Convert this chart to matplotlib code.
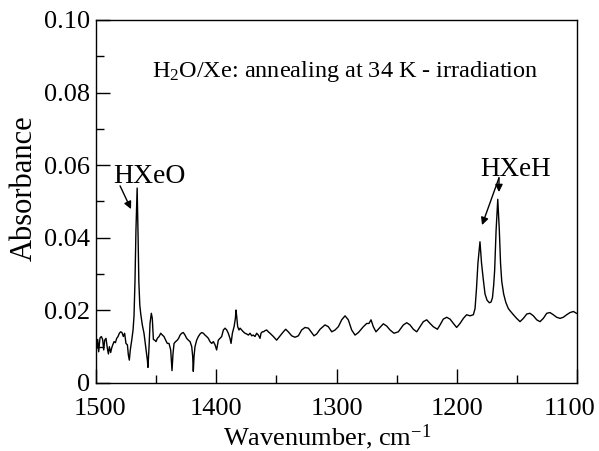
import matplotlib
matplotlib.use("Agg")
import matplotlib.pyplot as plt
import matplotlib.transforms as mtransforms
from matplotlib.ticker import MultipleLocator

# ---------------------------------------------------------------------------
# Data (wavenumber in cm-1, absorbance)
# ---------------------------------------------------------------------------
wavenumber = [
    1499.4, 1498.6, 1497.8, 1496.7, 1495.6, 1494.5, 1493.6, 1492.8, 1491.7, 1490.6,
    1489.7, 1488.9, 1487.8, 1487.0, 1486.1, 1485.0, 1483.9, 1482.8, 1481.7, 1480.6,
    1479.5, 1478.4, 1477.3, 1476.2, 1475.1, 1473.9, 1473.1, 1472.3, 1471.5, 1470.3,
    1469.2, 1468.4, 1467.6, 1466.8, 1465.8, 1465.0, 1464.4, 1463.6, 1462.8, 1461.5,
    1460.1, 1458.7, 1457.3, 1456.8, 1455.9, 1455.1, 1454.0, 1453.2, 1452.3, 1451.2,
    1450.1, 1449.0, 1447.6, 1446.2, 1444.8, 1443.5, 1442.1, 1440.7, 1439.3, 1437.9,
    1436.8, 1436.0, 1435.1, 1433.8, 1432.4, 1431.3, 1430.1, 1428.8, 1427.4, 1426.0,
    1424.6, 1423.2, 1421.8, 1420.4, 1419.6, 1419.1, 1418.5, 1417.7, 1416.3, 1414.9,
    1413.5, 1412.1, 1410.7, 1409.4, 1408.0, 1406.6, 1405.2, 1403.8, 1402.4, 1401.0,
    1399.7, 1398.3, 1396.9, 1395.5, 1394.1, 1392.7, 1391.3, 1390.0, 1388.6, 1387.7,
    1386.6, 1385.2, 1384.1, 1383.6, 1383.0, 1382.2, 1381.1, 1380.2, 1378.9, 1377.5,
    1376.1, 1374.7, 1373.3, 1371.9, 1370.5, 1369.2, 1367.8, 1366.4, 1365.0, 1363.6,
    1362.8, 1361.7, 1360.8, 1359.5, 1358.1, 1356.7, 1355.3, 1352.5, 1349.8, 1346.9,
    1344.2, 1342.3, 1340.1, 1337.3, 1334.5, 1331.7, 1329.0, 1326.2, 1323.4, 1320.7,
    1318.7, 1316.5, 1313.7, 1309.6, 1306.8, 1304.0, 1301.2, 1298.5, 1295.7, 1292.9,
    1290.2, 1287.4, 1284.6, 1281.8, 1277.7, 1274.9, 1273.0, 1271.3, 1269.4, 1267.2,
    1264.4, 1261.1, 1258.3, 1255.5, 1252.2, 1248.6, 1244.4, 1241.6, 1238.9, 1236.1,
    1233.3, 1230.6, 1227.8, 1225.0, 1222.2, 1219.5, 1216.1, 1213.9, 1211.2, 1208.4,
    1205.6, 1202.8, 1200.1, 1197.3, 1194.5, 1191.8, 1189.0, 1186.2, 1184.8, 1183.6,
    1182.4, 1180.7, 1179.4, 1177.9, 1176.5, 1174.8, 1172.9, 1171.5, 1170.3, 1169.3,
    1168.5, 1167.3, 1165.9, 1164.6, 1163.6, 1162.6, 1161.0, 1159.2, 1157.1, 1155.7,
    1152.9, 1150.2, 1147.4, 1144.6, 1141.8, 1139.1, 1136.3, 1133.5, 1130.8, 1128.0,
    1125.2, 1122.5, 1119.7, 1116.9, 1114.1, 1111.4, 1108.6, 1105.8, 1103.0, 1100.5,
]
absorbance = [
    0.0096, 0.0120, 0.0086, 0.0124, 0.0128, 0.0120, 0.0091, 0.0118, 0.0123, 0.0096,
    0.0080, 0.0100, 0.0084, 0.0096, 0.0105, 0.0114, 0.0111, 0.0123, 0.0128, 0.0137,
    0.0141, 0.0139, 0.0128, 0.0137, 0.0109, 0.0105, 0.0077, 0.0063, 0.0091, 0.0118,
    0.0146, 0.0185, 0.0280, 0.0420, 0.0537, 0.0400, 0.0280, 0.0215, 0.0190, 0.0160,
    0.0137, 0.0100, 0.0063, 0.0043, 0.0100, 0.0164, 0.0192, 0.0178, 0.0120, 0.0118,
    0.0114, 0.0123, 0.0128, 0.0137, 0.0132, 0.0128, 0.0118, 0.0109, 0.0109, 0.0091,
    0.0034, 0.0080, 0.0109, 0.0114, 0.0118, 0.0123, 0.0132, 0.0137, 0.0139, 0.0132,
    0.0123, 0.0118, 0.0114, 0.0100, 0.0073, 0.0032, 0.0073, 0.0100, 0.0118, 0.0128,
    0.0135, 0.0139, 0.0137, 0.0132, 0.0128, 0.0123, 0.0114, 0.0109, 0.0114, 0.0105,
    0.0091, 0.0118, 0.0123, 0.0128, 0.0146, 0.0151, 0.0146, 0.0137, 0.0123, 0.0109,
    0.0137, 0.0155, 0.0178, 0.0201, 0.0183, 0.0155, 0.0146, 0.0151, 0.0146, 0.0141,
    0.0137, 0.0135, 0.0132, 0.0137, 0.0130, 0.0132, 0.0128, 0.0137, 0.0132, 0.0123,
    0.0137, 0.0141, 0.0141, 0.0144, 0.0146, 0.0141, 0.0137, 0.0128, 0.0118, 0.0130,
    0.0141, 0.0148, 0.0141, 0.0130, 0.0126, 0.0130, 0.0146, 0.0153, 0.0151, 0.0139,
    0.0130, 0.0135, 0.0148, 0.0160, 0.0155, 0.0141, 0.0146, 0.0155, 0.0174, 0.0185,
    0.0174, 0.0146, 0.0132, 0.0139, 0.0155, 0.0164, 0.0164, 0.0174, 0.0155, 0.0141,
    0.0151, 0.0163, 0.0157, 0.0146, 0.0137, 0.0141, 0.0160, 0.0166, 0.0160, 0.0148,
    0.0141, 0.0155, 0.0169, 0.0174, 0.0164, 0.0155, 0.0148, 0.0160, 0.0176, 0.0181,
    0.0176, 0.0164, 0.0153, 0.0164, 0.0178, 0.0188, 0.0185, 0.0188, 0.0205, 0.0260,
    0.0330, 0.0389, 0.0330, 0.0284, 0.0245, 0.0228, 0.0221, 0.0223, 0.0235, 0.0270,
    0.0310, 0.0420, 0.0506, 0.0420, 0.0330, 0.0280, 0.0245, 0.0222, 0.0205, 0.0199,
    0.0188, 0.0178, 0.0169, 0.0178, 0.0190, 0.0192, 0.0185, 0.0174, 0.0169, 0.0178,
    0.0192, 0.0194, 0.0188, 0.0181, 0.0178, 0.0181, 0.0188, 0.0194, 0.0197, 0.0192,
]

x_ticks = [1500, 1400, 1300, 1200, 1100]
y_ticks = [0, 0.02, 0.04, 0.06, 0.08, 0.10]
y_ticklabels = ["0", "0.02", "0.04", "0.06", "0.08", "0.10"]

# ---------------------------------------------------------------------------
# Style
# ---------------------------------------------------------------------------
plt.rcParams.update({
    "font.family": "serif",
    "font.serif": ["Liberation Serif", "DejaVu Serif"],
    "mathtext.fontset": "custom",
    "mathtext.rm": "Liberation Serif",
    "mathtext.it": "Liberation Serif:italic",
    "axes.linewidth": 1.0,
    "xtick.direction": "in",
    "ytick.direction": "in",
})

fig = plt.figure(figsize=(5.99, 4.51), dpi=100)
ax = fig.add_axes([0.1603, 0.1508, 0.8030, 0.8049])

ax.plot(wavenumber, absorbance, color="black", linewidth=1.0)

ax.set_xlim(1500, 1100)
ax.set_ylim(0, 0.10)
ax.set_xticks(x_ticks)
ax.set_xticklabels([str(t) for t in x_ticks])
ax.set_yticks(y_ticks)
ax.set_yticklabels(y_ticklabels)
ax.xaxis.set_minor_locator(MultipleLocator(50))
ax.yaxis.set_minor_locator(MultipleLocator(0.01))
ax.tick_params(which="major", length=10, width=1.0, labelsize=19)
ax.tick_params(axis="x", which="major", pad=11)
ax.tick_params(axis="y", which="major", pad=4)
ax.tick_params(which="minor", length=6, width=1.0)

# end labels sit slightly inside the frame
xlabels = ax.get_xticklabels()
xlabels[0].set_transform(xlabels[0].get_transform()
                         + mtransforms.ScaledTranslation(4 / 100, 0, fig.dpi_scale_trans))
xlabels[-1].set_transform(xlabels[-1].get_transform()
                          + mtransforms.ScaledTranslation(-7 / 100, 0, fig.dpi_scale_trans))

ax.set_xlabel("Wavenumber, cm$^{-1}$", fontsize=19)
ax.xaxis.set_label_coords(0.48, -0.108)
ax.set_ylabel("Absorbance", fontsize=22)
ax.yaxis.set_label_coords(-0.12, 0.537)

# annotations
ax.text(1453.4, 0.0844, "H$_2$O/Xe: annealing at 34 K - irradiation",
        fontsize=17.5, ha="left", va="baseline")

arrow = dict(arrowstyle="-|>", color="black", lw=1.0, mutation_scale=11,
             shrinkA=0, shrinkB=0)
ax.text(1455.5, 0.0551, "HXeO", fontsize=20, ha="center", va="baseline")
ax.annotate("", xy=(1470.9, 0.0479), xytext=(1480.0, 0.0543), arrowprops=arrow)

ax.text(1150.7, 0.0570, "HXeH", fontsize=19.5, ha="center", va="baseline")
ax.annotate("", xy=(1179.0, 0.0435), xytext=(1164.9, 0.0565), arrowprops=arrow)
ax.annotate("", xy=(1164.9, 0.0526), xytext=(1164.9, 0.0565), arrowprops=arrow)

fig.savefig("out.png", dpi=100)
